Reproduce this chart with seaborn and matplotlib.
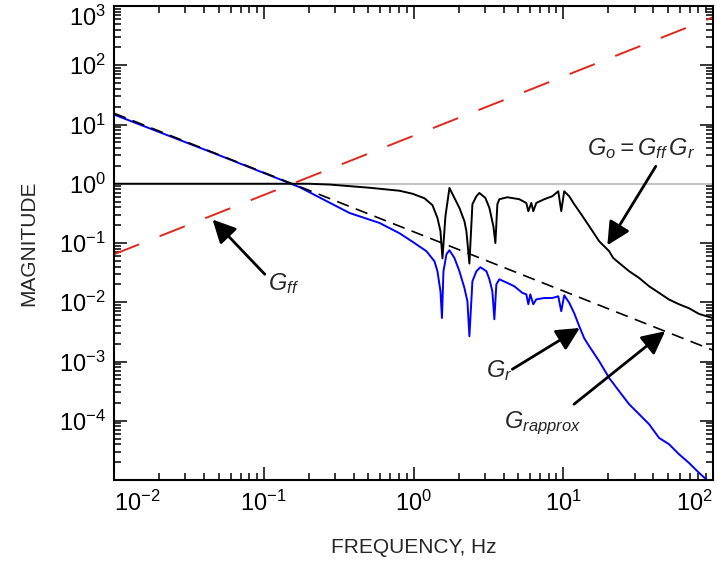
import matplotlib
matplotlib.use("Agg")
import matplotlib.pyplot as plt
import numpy as np
import seaborn as sns
from matplotlib.ticker import LogLocator, NullFormatter

# frequency axis values (Hz)
freq_line = [0.01, 100.0]
g_ff = [0.0645, 645.0]          # feedforward, straight line
g_rapprox = [15.5, 0.00155]     # approximation, straight line

# closed loop G_o = G_ff * G_r
freq_o = [0.01, 0.1, 0.2, 0.275, 0.509, 0.807, 0.985, 1.184, 1.339, 1.445, 1.514,
          1.561, 1.634, 1.738, 1.876, 2.026, 2.188, 2.256, 2.362, 2.474, 2.630,
          2.754, 3.020, 3.212, 3.415, 3.522, 3.631, 3.744, 4.234, 5.088, 5.666,
          5.845, 6.120, 6.310, 6.607, 7.470, 8.447, 9.261, 9.698, 10.15, 10.96,
          11.84, 13.18, 14.91, 17.38, 20.26, 21.54, 23.62, 27.54, 32.12, 37.44,
          43.65, 50.90, 59.34, 69.18, 80.66, 100.0]
mag_o = [1.0, 1.0, 1.0, 0.97, 0.856, 0.762, 0.678, 0.569, 0.434, 0.265, 0.158,
         0.055, 0.283, 0.849, 0.576, 0.391, 0.233, 0.158, 0.045, 0.451, 0.615,
         0.699, 0.576, 0.391, 0.192, 0.100, 0.451, 0.548, 0.592, 0.548, 0.474,
         0.344, 0.474, 0.344, 0.474, 0.548, 0.615, 0.747, 0.344, 0.747, 0.615,
         0.451, 0.306, 0.192, 0.107, 0.0726, 0.056, 0.046, 0.0334, 0.0257, 0.0186,
         0.0144, 0.0111, 0.00925, 0.00792, 0.00635, 0.00540]

# G_r
freq_r = [0.01, 0.05, 0.174, 0.374, 0.593, 0.807, 0.985, 1.221, 1.380, 1.445,
          1.514, 1.549, 1.585, 1.660, 1.738, 1.876, 2.026, 2.188, 2.291, 2.362,
          2.474, 2.630, 2.797, 3.067, 3.212, 3.362, 3.467, 3.575, 3.744, 4.234,
          4.713, 5.330, 5.666, 5.845, 6.026, 6.310, 6.607, 7.470, 8.447, 9.261,
          9.698, 10.15, 10.96, 11.84, 12.79, 13.80, 14.91, 17.38, 20.26, 23.62,
          27.54, 32.12, 37.44, 43.65, 50.90, 59.34, 69.18, 80.66, 91.2]
mag_r = [14.7, 3.05, 0.873, 0.321, 0.218, 0.146, 0.105, 0.0726, 0.0492, 0.0334,
         0.0153, 0.00543, 0.0334, 0.0646, 0.0755, 0.056, 0.0334, 0.0174, 0.0104,
         0.00267, 0.0226, 0.0334, 0.039, 0.0334, 0.0244, 0.0153, 0.00516, 0.0201,
         0.0244, 0.0212, 0.0186, 0.0144, 0.0136, 0.00925, 0.0136, 0.00925, 0.0112,
         0.0118, 0.0118, 0.0126, 0.00705, 0.0131, 0.00982, 0.00652, 0.00394,
         0.00247, 0.00181, 0.00101, 0.000527, 0.000315, 0.00019, 0.000129,
         8.73e-5, 5.13e-5, 4.01e-5, 2.72e-5, 1.94e-5, 1.32e-5, 1.0e-5]

x_ticks = [0.01, 0.1, 1, 10, 100]
x_tick_labels = ['$10^{-2}$', '$10^{-1}$', '$10^{0}$', '$10^{1}$', '$10^{2}$']
y_ticks = [1e-4, 1e-3, 1e-2, 1e-1, 1, 10, 100, 1000]
y_tick_labels = ['$10^{-4}$', '$10^{-3}$', '$10^{-2}$', '$10^{-1}$',
                 '$10^{0}$', '$10^{1}$', '$10^{2}$', '$10^{3}$']

sns.set_style('ticks')
plt.rcParams['font.family'] = ['Liberation Sans', 'DejaVu Sans']
plt.rcParams['mathtext.fontset'] = 'custom'
plt.rcParams['mathtext.rm'] = 'Liberation Sans'
plt.rcParams['mathtext.it'] = 'Liberation Sans:italic'
plt.rcParams['mathtext.default'] = 'regular'

fig = plt.figure(figsize=(7.17, 5.64), dpi=100)
ax = fig.add_axes([114 / 717, 84 / 564, 599 / 717, 474 / 564])

ax.axhline(1.0, color='#c4c4c4', lw=1.5, zorder=1)
sns.lineplot(x=freq_line, y=g_ff, ax=ax, color='#e0281c', lw=1.4,
             linestyle=(0, (13.9, 11.3)), estimator=None)
sns.lineplot(x=freq_r, y=mag_r, ax=ax, color='#0000ff', lw=1.4,
             estimator=None, sort=False)
sns.lineplot(x=freq_line, y=g_rapprox, ax=ax, color='black', lw=1.2,
             linestyle=(0, (7.5, 4.5)), estimator=None)
sns.lineplot(x=freq_o, y=mag_o, ax=ax, color='black', lw=1.4,
             estimator=None, sort=False)

ax.set_xscale('log')
ax.set_yscale('log')
ax.set_xlim(0.01, 100)
ax.set_ylim(1e-5, 1e3)

ax.set_xticks(x_ticks)
ax.set_xticklabels(x_tick_labels)
ax.set_yticks(y_ticks)
ax.set_yticklabels(y_tick_labels)
ax.xaxis.set_minor_locator(LogLocator(base=10, subs=np.arange(2, 10), numticks=100))
ax.yaxis.set_minor_locator(LogLocator(base=10, subs=np.arange(2, 10), numticks=100))
ax.xaxis.set_minor_formatter(NullFormatter())
ax.yaxis.set_minor_formatter(NullFormatter())

ax.tick_params(which='both', direction='in', top=True, right=True, width=1.1,
               labelsize=17, colors='black')
ax.tick_params(which='major', length=9.5)
ax.tick_params(which='minor', length=5)
ax.tick_params(axis='x', pad=8)
ax.tick_params(axis='y', pad=6)
xl = ax.get_xticklabels()
xl[0].set_horizontalalignment('left')
xl[-1].set_horizontalalignment('right')
ax.get_yticklabels()[-1].set_verticalalignment('top')

for s in ax.spines.values():
    s.set_linewidth(1.5)
    s.set_color('black')

ax.set_xlabel('FREQUENCY, Hz', fontsize=15)
ax.set_ylabel('MAGNITUDE', fontsize=15)
ax.xaxis.set_label_coords(0.5, -0.122)
ax.yaxis.set_label_coords(-0.127, 0.5)

arrow = dict(arrowstyle='-|>,head_length=0.7,head_width=0.35', color='black',
             lw=2, shrinkA=0, shrinkB=0, mutation_scale=20)
ax.annotate('', xy=(0.0455, 0.249), xytext=(0.1016, 0.0297), arrowprops=arrow)
ax.text(0.106, 0.0209, '$G_{ff}$', fontsize=17, style='italic',
        ha='left', va='center')

ax.annotate('', xy=(19.7, 0.0916), xytext=(41.5, 1.97), arrowprops=arrow)
ax.text(33.1, 3.97, r'$G_o = G_{ff}\,G_r$', fontsize=17, style='italic',
        ha='center', va='center')

ax.annotate('', xy=(12.9, 0.00368), xytext=(4.57, 0.00074), arrowprops=arrow)
ax.text(3.07, 0.00071, '$G_r$', fontsize=17, style='italic',
        ha='left', va='center')

ax.annotate('', xy=(47.9, 0.00324), xytext=(11.8, 0.00019), arrowprops=arrow)
ax.text(4.04, 0.000091, '$G_{rapprox}$', fontsize=17, style='italic',
        ha='left', va='center')

fig.savefig('out.png', dpi=100)
